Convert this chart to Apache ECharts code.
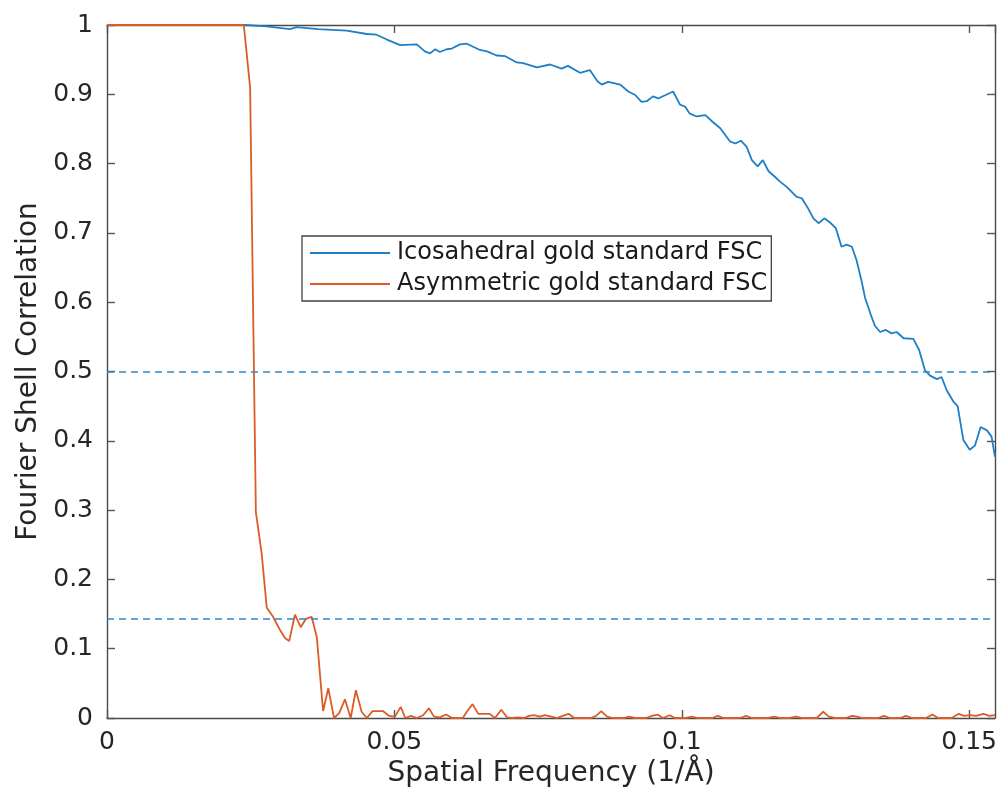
<!DOCTYPE html>
<html>
<head>
<meta charset="utf-8">
<script src="https://cdn.jsdelivr.net/npm/echarts@6/dist/echarts.min.js"></script>
<style>
html,body{margin:0;padding:0;background:#fff;}
#chart{width:1005px;height:798px;}
</style>
</head>
<body>
<div id="chart"></div>
<script>
// Tick values
const xTicks = [0, 0.05, 0.1, 0.15];
const yTicks = [0, 0.1, 0.2, 0.3, 0.4, 0.5, 0.6, 0.7, 0.8, 0.9, 1];
const thresholds = [0.5, 0.143];

// Icosahedral gold standard FSC
const icoX = [0, 0.0240, 0.0278, 0.0318, 0.0330, 0.0367, 0.0417, 0.0452, 0.0469, 0.0487, 0.0510, 0.0539, 0.0553, 0.0562, 0.0571, 0.0579, 0.0591, 0.0600, 0.0614, 0.0626, 0.0649, 0.0661, 0.0678, 0.0693, 0.0713, 0.0724, 0.0748, 0.0771, 0.0791, 0.0802, 0.0823, 0.0840, 0.0854, 0.0861, 0.0872, 0.0893, 0.0907, 0.0919, 0.0930, 0.0939, 0.0950, 0.0959, 0.0985, 0.0997, 0.1006, 0.1014, 0.1026, 0.1041, 0.1054, 0.1067, 0.1084, 0.1093, 0.1103, 0.1113, 0.1122, 0.1132, 0.1141, 0.1151, 0.1162, 0.1171, 0.1183, 0.1200, 0.1209, 0.1220, 0.1229, 0.1238, 0.1248, 0.1258, 0.1268, 0.1278, 0.1287, 0.1296, 0.1304, 0.1313, 0.1319, 0.1328, 0.1336, 0.1345, 0.1355, 0.1365, 0.1374, 0.1386, 0.1403, 0.1413, 0.1423, 0.1432, 0.1444, 0.1452, 0.1461, 0.1473, 0.1480, 0.1490, 0.1501, 0.1510, 0.1520, 0.1531, 0.1539, 0.1545];
const icoY = [1, 1.000, 0.998, 0.994, 0.997, 0.994, 0.992, 0.987, 0.986, 0.979, 0.971, 0.972, 0.962, 0.959, 0.965, 0.961, 0.965, 0.966, 0.972, 0.973, 0.964, 0.962, 0.956, 0.955, 0.946, 0.945, 0.939, 0.943, 0.937, 0.941, 0.931, 0.935, 0.918, 0.914, 0.918, 0.914, 0.904, 0.899, 0.889, 0.890, 0.897, 0.894, 0.904, 0.885, 0.882, 0.872, 0.868, 0.870, 0.860, 0.851, 0.832, 0.829, 0.833, 0.824, 0.805, 0.796, 0.805, 0.789, 0.781, 0.774, 0.766, 0.752, 0.750, 0.735, 0.721, 0.714, 0.721, 0.715, 0.707, 0.680, 0.683, 0.680, 0.661, 0.630, 0.606, 0.584, 0.566, 0.557, 0.560, 0.555, 0.557, 0.548, 0.547, 0.531, 0.502, 0.494, 0.489, 0.492, 0.473, 0.456, 0.450, 0.401, 0.387, 0.393, 0.420, 0.415, 0.406, 0.377];

// Asymmetric gold standard FSC
const asymX = [0, 0.0238, 0.0249, 0.0259, 0.0269, 0.0278, 0.0289, 0.0301, 0.0310, 0.0317, 0.0327, 0.0337, 0.0346, 0.0356, 0.0365, 0.0376, 0.0385, 0.0395, 0.0404, 0.0414, 0.0424, 0.0433, 0.0443, 0.0452, 0.0462, 0.0480, 0.0491, 0.0501, 0.0511, 0.0519, 0.0529, 0.0539, 0.0550, 0.0560, 0.0569, 0.0579, 0.0590, 0.0600, 0.0611, 0.0619, 0.0627, 0.0636, 0.0646, 0.0656, 0.0666, 0.0675, 0.0686, 0.0696, 0.0706, 0.0715, 0.0726, 0.0734, 0.0743, 0.0753, 0.0762, 0.0773, 0.0783, 0.0793, 0.0803, 0.0813, 0.0823, 0.0842, 0.0851, 0.0860, 0.0870, 0.0880, 0.0900, 0.0908, 0.0919, 0.0938, 0.0948, 0.0958, 0.0967, 0.0979, 0.0988, 0.1007, 0.1018, 0.1027, 0.1053, 0.1063, 0.1072, 0.1101, 0.1112, 0.1122, 0.1150, 0.1161, 0.1171, 0.1188, 0.1199, 0.1209, 0.1235, 0.1246, 0.1256, 0.1267, 0.1286, 0.1296, 0.1305, 0.1314, 0.1342, 0.1352, 0.1362, 0.1380, 0.1390, 0.1401, 0.1425, 0.1436, 0.1446, 0.1470, 0.1482, 0.1491, 0.1502, 0.1512, 0.1525, 0.1535, 0.1545];
const asymY = [1, 1.000, 0.910, 0.297, 0.238, 0.159, 0.146, 0.127, 0.115, 0.111, 0.149, 0.131, 0.143, 0.146, 0.117, 0.010, 0.043, 0.000, 0.007, 0.027, 0.000, 0.040, 0.009, 0.000, 0.010, 0.010, 0.003, 0.002, 0.016, 0.000, 0.003, 0.000, 0.004, 0.014, 0.002, 0.001, 0.005, 0.000, 0.000, 0.000, 0.010, 0.020, 0.006, 0.006, 0.006, 0.000, 0.012, 0.001, 0.000, 0.001, 0.000, 0.003, 0.004, 0.002, 0.004, 0.002, 0.000, 0.003, 0.006, 0.000, 0.000, 0.000, 0.003, 0.010, 0.002, 0.000, 0.000, 0.002, 0.000, 0.000, 0.003, 0.005, 0.000, 0.004, 0.000, 0.000, 0.002, 0.000, 0.000, 0.003, 0.000, 0.000, 0.003, 0.000, 0.000, 0.002, 0.000, 0.000, 0.002, 0.000, 0.000, 0.009, 0.002, 0.000, 0.000, 0.003, 0.002, 0.000, 0.000, 0.003, 0.000, 0.000, 0.003, 0.000, 0.000, 0.005, 0.000, 0.000, 0.006, 0.003, 0.004, 0.003, 0.006, 0.003, 0.004];

const seriesNames = ['Icosahedral gold standard FSC', 'Asymmetric gold standard FSC'];
const xMax = 0.1545;

const zip = (xs, ys) => xs.map((x, i) => [x, ys[i]]);
const FONT = 'DejaVu Sans';
const AX = '#262626';
const BLUE = '#1f7fc6';
const DASH = '#2f88cc';
const ORANGE = '#dd5c25';

const chart = echarts.init(document.getElementById('chart'), null, {renderer: 'canvas'});

const axisLineStyle = {color: '#4a4a4a', width: 1.4};
const tickStyle = {color: '#555', width: 1.4};
const xFmt = v => (xTicks.some(t => Math.abs(t - v) < 1e-9) ? String(+v.toFixed(4)) : '');
const yFmt = v => String(+v.toFixed(2));

chart.setOption({
  animation: false,
  backgroundColor: '#ffffff',
  grid: {left: 107, right: 10, top: 25, bottom: 80, containLabel: false},
  xAxis: [{
    type: 'value', min: 0, max: xMax, interval: 0.05,
    position: 'bottom',
    name: 'Spatial Frequency (1/Å)', nameLocation: 'middle', nameGap: 42,
    nameTextStyle: {fontFamily: FONT, fontSize: 28, color: AX},
    axisLine: {show: true, onZero: false, lineStyle: axisLineStyle},
    axisTick: {show: true, inside: true, length: 8, lineStyle: tickStyle},
    axisLabel: {fontFamily: FONT, fontSize: 25, color: AX, margin: 12, formatter: xFmt, showMaxLabel: false},
    splitLine: {show: false}
  }, {
    type: 'value', min: 0, max: xMax, interval: 0.05,
    position: 'top',
    axisLine: {show: true, onZero: false, lineStyle: axisLineStyle},
    axisTick: {show: true, inside: true, length: 8, lineStyle: tickStyle},
    axisLabel: {show: false},
    splitLine: {show: false}
  }],
  yAxis: [{
    type: 'value', min: 0, max: 1, interval: 0.1,
    position: 'left',
    name: 'Fourier Shell Correlation', nameLocation: 'middle', nameGap: 64,
    nameTextStyle: {fontFamily: FONT, fontSize: 28, color: AX},
    axisLine: {show: true, onZero: false, lineStyle: axisLineStyle},
    axisTick: {show: true, inside: true, length: 8, lineStyle: tickStyle},
    axisLabel: {fontFamily: FONT, fontSize: 25, color: AX, margin: 14, formatter: yFmt},
    splitLine: {show: false}
  }, {
    type: 'value', min: 0, max: 1, interval: 0.1,
    position: 'right',
    axisLine: {show: true, onZero: false, lineStyle: axisLineStyle},
    axisTick: {show: true, inside: true, length: 8, lineStyle: tickStyle},
    axisLabel: {show: false},
    splitLine: {show: false}
  }],
  legend: {
    data: seriesNames,
    orient: 'vertical',
    left: 302, top: 236,
    icon: 'rect', itemWidth: 80, itemHeight: 2,
    itemGap: 3,
    padding: [3, 4, 3, 8],
    borderColor: '#444', borderWidth: 1.3,
    backgroundColor: '#fff',
    textStyle: {fontFamily: FONT, fontSize: 24, color: '#1a1a1a', lineHeight: 28, padding: [0, 0, 0, 2]}
  },
  series: [{
    name: seriesNames[0], type: 'line', data: zip(icoX, icoY),
    showSymbol: false, symbol: 'none', clip: false,
    color: BLUE,
    lineStyle: {color: BLUE, width: 1.8},
    markLine: {
      silent: true, symbol: 'none', label: {show: false}, precision: 4,
      lineStyle: {color: DASH, width: 1.6, type: [7, 5], opacity: 1},
      emphasis: {disabled: true},
      data: thresholds.map(v => ({yAxis: v}))
    },
    z: 2
  }, {
    name: seriesNames[1], type: 'line', data: zip(asymX, asymY),
    showSymbol: false, symbol: 'none', clip: false,
    color: ORANGE,
    lineStyle: {color: ORANGE, width: 1.8},
    z: 3
  }]
});
</script>
</body>
</html>
